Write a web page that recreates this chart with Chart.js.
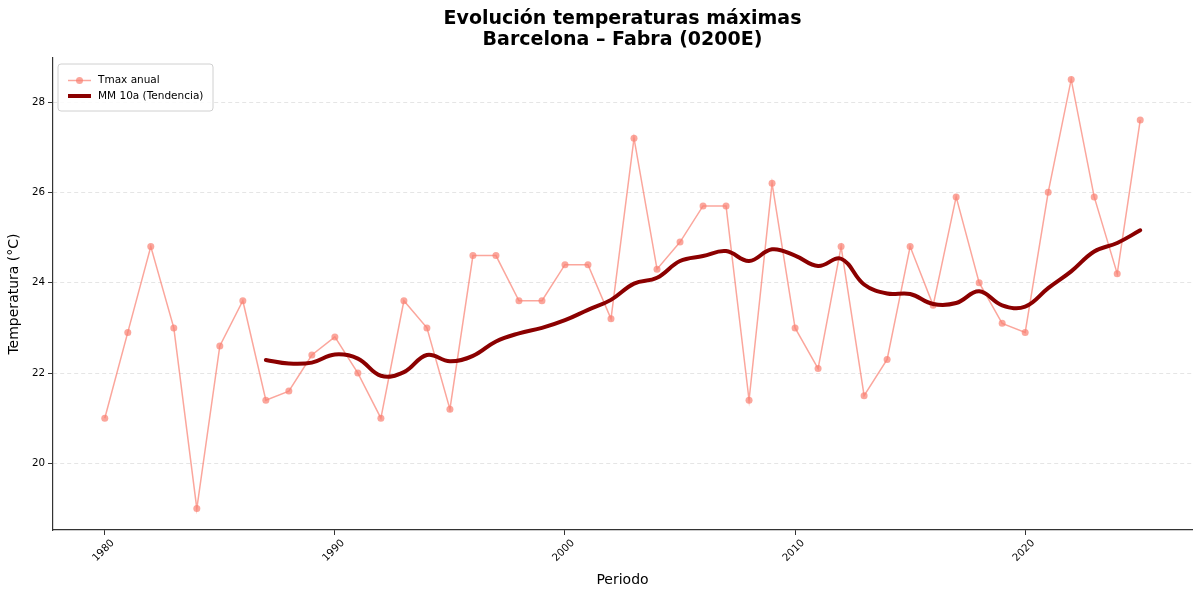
<!DOCTYPE html>
<html><head><meta charset="utf-8">
<script src="https://cdn.jsdelivr.net/npm/chart.js@4.4.1/dist/chart.umd.min.js"></script>
<style>html,body{margin:0;padding:0;background:#fff}#wrap{width:1200px;height:596px;position:relative}</style>
</head><body><div id="wrap"><canvas id="c" width="1200" height="596"></canvas></div>
<script>
const years = [1980,1981,1982,1983,1984,1985,1986,1987,1988,1989,1990,1991,1992,1993,1994,1995,1996,1997,1998,1999,2000,2001,2002,2003,2004,2005,2006,2007,2008,2009,2010,2011,2012,2013,2014,2015,2016,2017,2018,2019,2020,2021,2022,2023,2024,2025];
const tmax = [21.0,22.9,24.8,23.0,19.0,22.6,23.6,21.4,21.6,22.4,22.8,22.0,21.0,23.6,23.0,21.2,24.6,24.6,23.6,23.6,24.4,24.4,23.2,27.2,24.3,24.9,25.7,25.7,21.4,26.2,23.0,22.1,24.8,21.5,22.3,24.8,23.5,25.9,24.0,23.1,22.9,26.0,28.5,25.9,24.2,27.6];
const mmYears = [1987,1988,1989,1990,1991,1992,1993,1994,1995,1996,1997,1998,1999,2000,2001,2002,2003,2004,2005,2006,2007,2008,2009,2010,2011,2012,2013,2014,2015,2016,2017,2018,2019,2020,2021,2022,2023,2024,2025];
const mm10 = [22.29,22.21,22.23,22.41,22.32,21.94,22.02,22.40,22.26,22.38,22.70,22.88,23.00,23.17,23.40,23.62,23.98,24.11,24.48,24.59,24.70,24.48,24.74,24.60,24.37,24.53,23.96,23.76,23.75,23.53,23.55,23.81,23.50,23.47,23.88,24.25,24.69,24.88,25.16];
const xTicks = [1980,1990,2000,2010,2020];
const yTicks = [20,22,24,26,28];
const titleLines = ['Evolución temperaturas máximas','Barcelona – Fabra (0200E)'];
const seriesNames = ['Tmax anual','MM 10a (Tendencia)'];
const FONT = "'DejaVu Sans', sans-serif";

const salmon = 'rgba(250,128,114,0.7)';
const darkred = '#8B0000';

const legendPlugin = {
  id: 'boxLegend',
  afterDatasetsDraw(chart) {
    const ctx = chart.ctx, a = chart.chartArea;
    const x0 = a.left + 5, y0 = a.top + 6, w = 155, h = 47;
    ctx.save();
    ctx.beginPath();
    ctx.roundRect(x0, y0, w, h, 3);
    ctx.fillStyle = 'rgba(255,255,255,0.85)';
    ctx.fill();
    ctx.strokeStyle = '#d0d0d0';
    ctx.lineWidth = 1;
    ctx.stroke();
    chart.data.datasets.forEach((ds, i) => {
      const cy = y0 + 16.5 + i * 15.5;
      const lx0 = x0 + 10, lx1 = x0 + 33;
      ctx.beginPath();
      ctx.moveTo(lx0, cy); ctx.lineTo(lx1, cy);
      ctx.strokeStyle = ds.borderColor;
      ctx.lineWidth = ds.borderWidth;
      ctx.lineCap = 'butt';
      ctx.stroke();
      if (ds.pointRadius > 0) {
        ctx.beginPath();
        ctx.arc((lx0 + lx1) / 2, cy, ds.pointRadius, 0, Math.PI * 2);
        ctx.fillStyle = ds.pointBackgroundColor;
        ctx.fill();
      }
      ctx.fillStyle = '#000';
      ctx.font = "10.5px " + FONT;
      ctx.textBaseline = 'middle';
      ctx.textAlign = 'left';
      ctx.fillText(ds.label, x0 + 40, cy);
    });
    ctx.restore();
  }
};

new Chart(document.getElementById('c'), {
  type: 'line',
  data: {
    datasets: [
      {
        label: seriesNames[0],
        data: years.map((y, i) => ({x: y, y: tmax[i]})),
        borderColor: salmon,
        backgroundColor: salmon,
        pointBackgroundColor: salmon,
        pointBorderColor: salmon,
        pointBorderWidth: 0,
        pointRadius: 3.5,
        borderWidth: 1.5,
        tension: 0,
        order: 2
      },
      {
        label: seriesNames[1],
        data: mmYears.map((y, i) => ({x: y, y: mm10[i]})),
        borderColor: darkred,
        backgroundColor: darkred,
        pointRadius: 0,
        borderWidth: 4,
        tension: 0.4,
        borderCapStyle: 'round',
        order: 1
      }
    ]
  },
  options: {
    responsive: false,
    animation: false,
    events: [],
    layout: {padding: {left: 0, right: 8, top: 0, bottom: 0}},
    plugins: {
      legend: {display: false},
      tooltip: {enabled: false},
      title: {
        display: true,
        text: titleLines,
        fullSize: false,
        color: '#000',
        font: {family: FONT, size: 19, weight: 'bold', lineHeight: 1.1},
        padding: {top: 8.5, bottom: 7.7}
      }
    },
    scales: {
      x: {
        type: 'linear',
        min: 1977.75,
        max: 2027.25,
        afterBuildTicks: s => { s.ticks = xTicks.map(v => ({value: v})); },
        afterFit: s => { s.height = 66; },
        ticks: {
          minRotation: 45, maxRotation: 45,
          autoSkip: false,
          color: '#000',
          font: {family: FONT, size: 10.3},
          padding: 2,
          labelOffset: 8,
          callback: v => String(v)
        },
        grid: {drawOnChartArea: false, tickLength: 5, tickColor: '#333', tickWidth: 1},
        border: {color: '#333', width: 1.2},
        title: {
          display: true, text: 'Periodo', color: '#000',
          font: {family: FONT, size: 14, lineHeight: 1.2},
          padding: {top: 0, bottom: 7.5}
        }
      },
      y: {
        type: 'linear',
        min: 18.525,
        max: 28.975,
        afterBuildTicks: s => { s.ticks = yTicks.map(v => ({value: v})); },
        afterFit: s => { s.width = 53; },
        ticks: {
          color: '#000',
          font: {family: FONT, size: 10.3},
          padding: 3,
          callback: v => String(v)
        },
        grid: {color: '#dedede', lineWidth: 0.8, tickLength: 5, tickColor: '#333', tickWidth: 1},
        border: {color: '#333', width: 1.2, dash: [4, 3]},
        title: {
          display: true, text: 'Temperatura (°C)', color: '#000',
          font: {family: FONT, size: 14, lineHeight: 1.2},
          padding: {top: 6, bottom: 0}
        }
      }
    }
  },
  plugins: [legendPlugin]
});
</script>
</body></html>
